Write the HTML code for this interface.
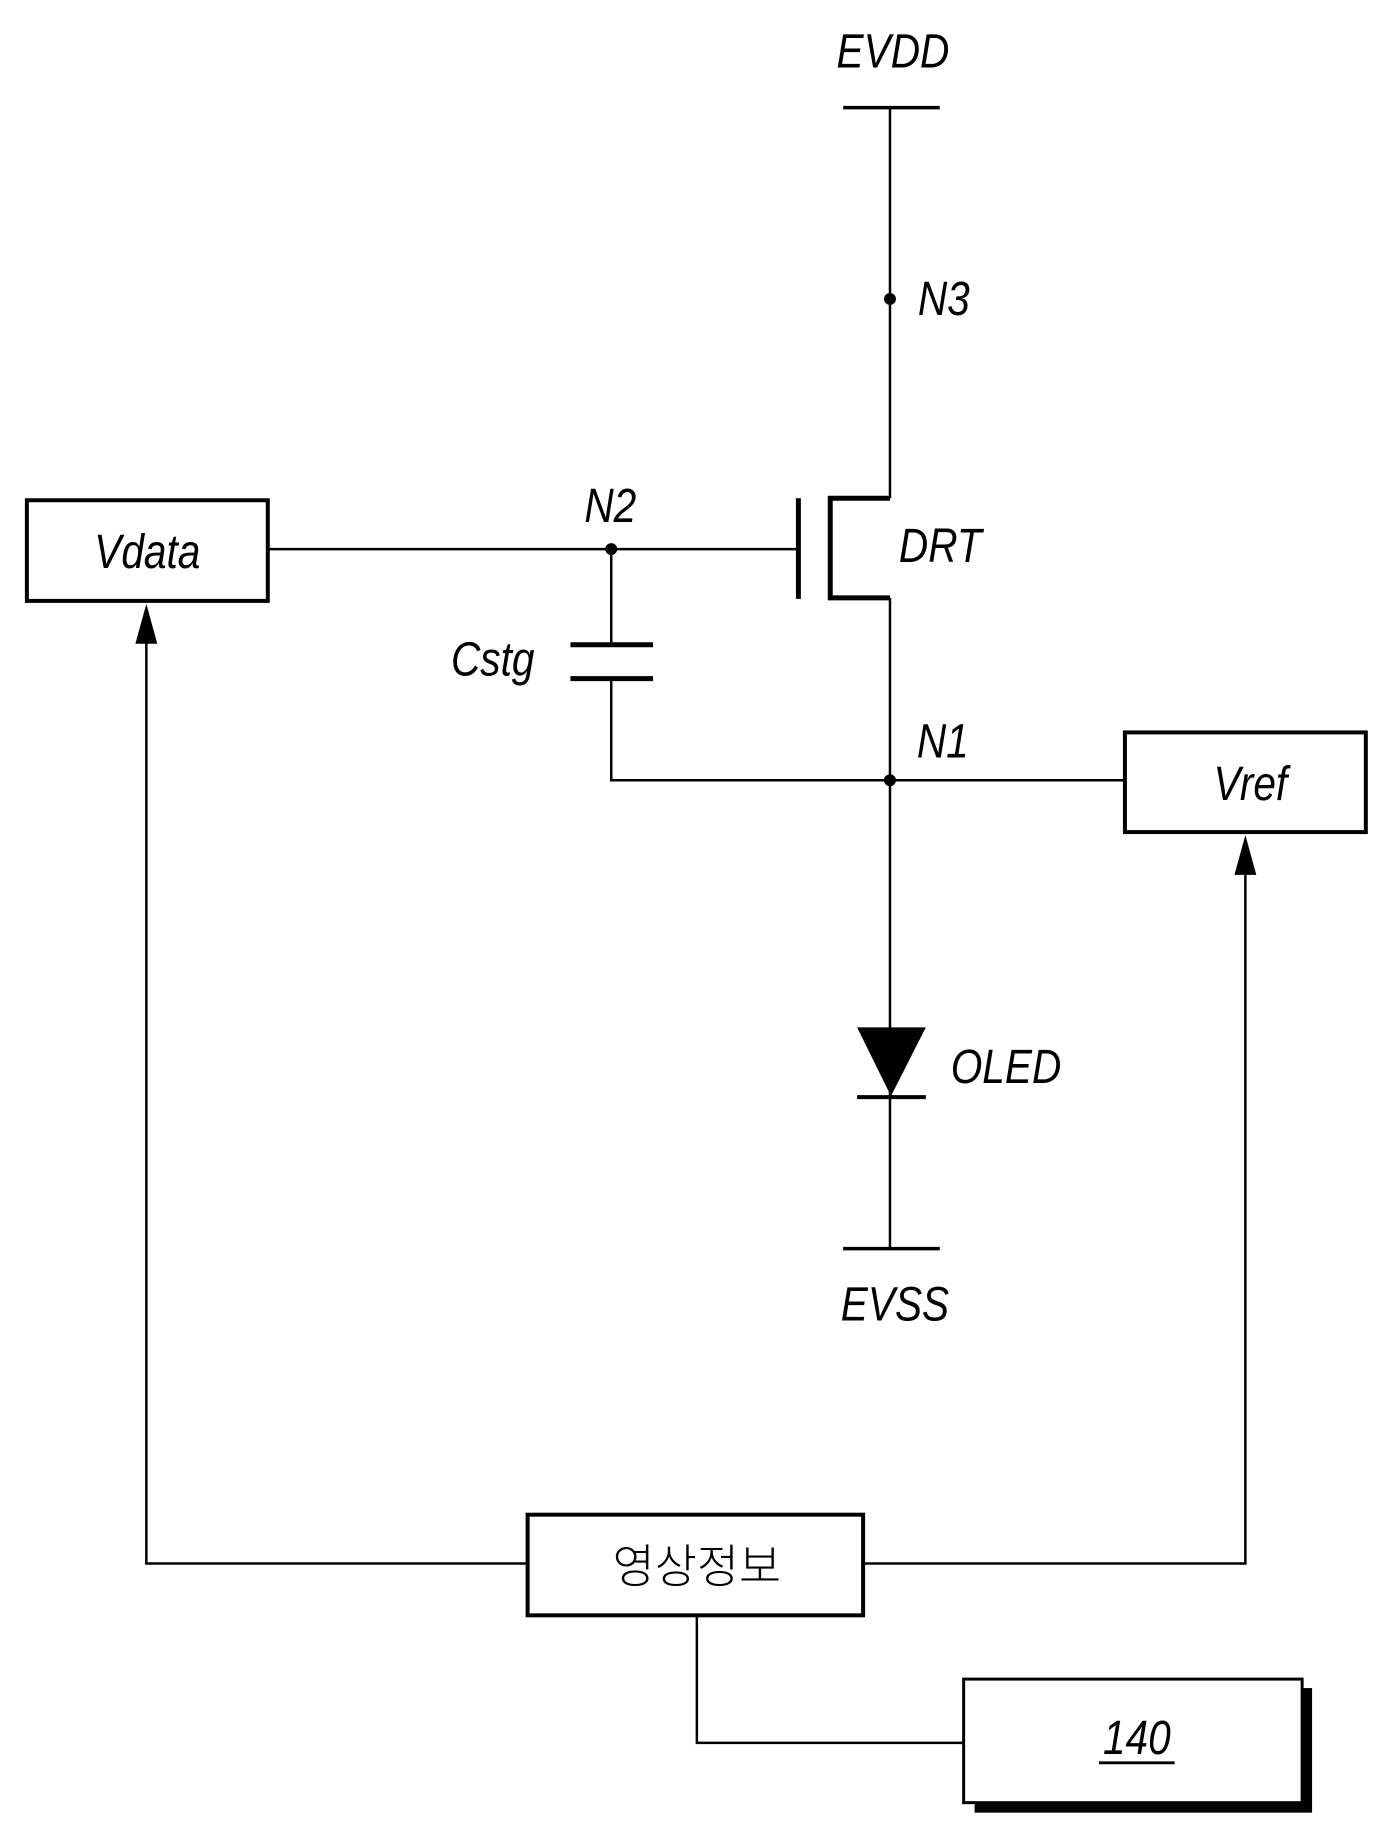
<!DOCTYPE html>
<html><head><meta charset="utf-8"><style>
html,body{margin:0;padding:0;background:#fff;}
svg{display:block}
text{font-family:"Liberation Sans","Noto Sans CJK KR",sans-serif;font-style:italic;fill:#000}
</style></head><body>
<svg width="1398" height="1842" viewBox="0 0 1398 1842" xmlns="http://www.w3.org/2000/svg">
<g transform="scale(0.9955 0.9965)">
<g stroke="#000" fill="none" stroke-width="2.5">
<line x1="847" y1="108" x2="944" y2="108" stroke-width="3.5"/>
<line x1="894" y1="108" x2="894" y2="500"/>
<polyline points="894,500 834,500 834,600 894,600" stroke-width="5"/>
<line x1="802" y1="500" x2="802" y2="601" stroke-width="5"/>
<line x1="894" y1="600" x2="894" y2="1253"/>
<line x1="269" y1="551" x2="802" y2="551"/>
<line x1="614" y1="551" x2="614" y2="647"/>
<line x1="573" y1="647" x2="656" y2="647" stroke-width="5"/>
<line x1="573" y1="681" x2="656" y2="681" stroke-width="5"/>
<polyline points="614,681 614,783 1129,783"/>
<line x1="847" y1="1253" x2="944" y2="1253" stroke-width="3.5"/>
<line x1="861" y1="1101" x2="930" y2="1101" stroke-width="4"/>
<rect x="27" y="502" width="242" height="101" stroke-width="4"/>
<rect x="1130" y="735" width="242" height="100" stroke-width="4"/>
<rect x="530" y="1520" width="337" height="101" stroke-width="4"/>
<polyline points="147,640 147,1569 530,1569"/>
<polyline points="867,1569 1251,1569 1251,872"/>
<polyline points="700,1621 700,1749 968,1749"/>
<rect x="979" y="1694" width="339" height="125" fill="#000" stroke="none"/>
<rect x="968" y="1685" width="340" height="124" fill="#fff" stroke-width="3"/>
<line x1="1104" y1="1769" x2="1180" y2="1769" stroke-width="3"/>
</g>
<g fill="#000">
<circle cx="894" cy="300" r="6"/>
<circle cx="614" cy="551" r="6"/>
<circle cx="894" cy="783" r="6"/>
<polygon points="861,1031 930,1031 895,1100"/>
<polygon points="147,606 136,646 158,646"/>
<polygon points="1251,838 1240,878 1262,878"/>
</g>
<g font-size="48">
<text x="897" y="68" text-anchor="middle" transform="translate(897 0) scale(0.85 1) translate(-897 0)">EVDD</text>
<text x="922" y="316" transform="translate(922 0) scale(0.85 1) translate(-922 0)">N3</text>
<text x="587" y="524" transform="translate(587 0) scale(0.85 1) translate(-587 0)">N2</text>
<text x="903" y="564" transform="translate(903 0) scale(0.85 1) translate(-903 0)">DRT</text>
<text x="453" y="678" transform="translate(453 0) scale(0.85 1) translate(-453 0)">Cstg</text>
<text x="921" y="760" transform="translate(921 0) scale(0.85 1) translate(-921 0)">N1</text>
<text x="148" y="570" text-anchor="middle" transform="translate(148 0) scale(0.85 1) translate(-148 0)">Vdata</text>
<text x="1256" y="803" text-anchor="middle" transform="translate(1256 0) scale(0.85 1) translate(-1256 0)">Vref</text>
<text x="955" y="1087" transform="translate(955 0) scale(0.85 1) translate(-955 0)">OLED</text>
<text x="899" y="1325" text-anchor="middle" transform="translate(899 0) scale(0.85 1) translate(-899 0)">EVSS</text>
<text x="1142" y="1760" text-anchor="middle" transform="translate(1142 0) scale(0.85 1) translate(-1142 0)">140</text>
<text x="700" y="1588" font-size="46" text-anchor="middle" style="font-style:normal;font-weight:300">영상정보</text>
</g>
</g>
</svg>
</body></html>
